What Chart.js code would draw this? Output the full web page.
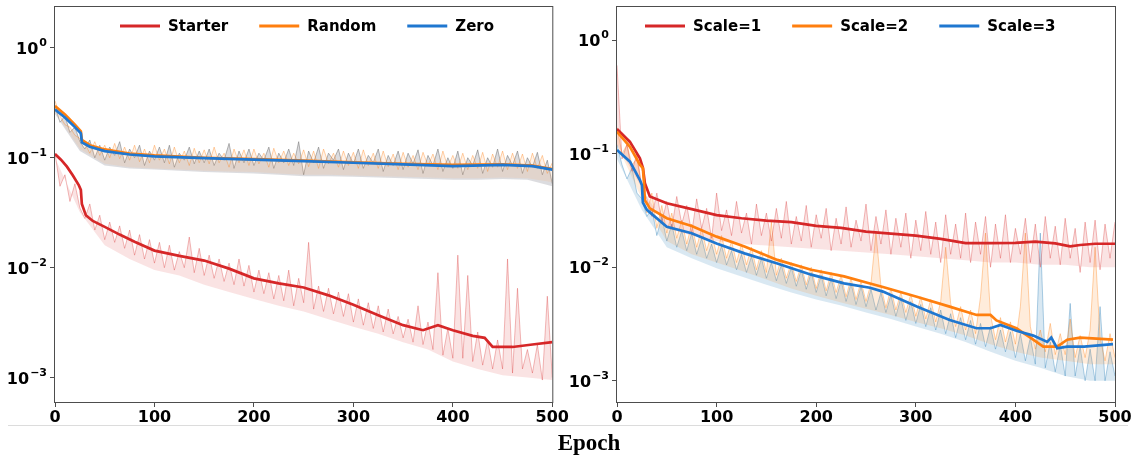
<!DOCTYPE html>
<html>
<head>
<meta charset="utf-8">
<script src="https://cdn.jsdelivr.net/npm/chart.js@4.4.0/dist/chart.umd.min.js"></script>
<style>
  body { margin: 0; background: #fff; }
  #wrap { position: relative; width: 1136px; height: 457px; background: #fff; overflow: hidden; }
  canvas { position: absolute; top: 0; }
  #sep { position: absolute; left: 8px; top: 425px; width: 1120px; height: 1px; background: #dcdcdc; }
  #xlabel { position: absolute; left: 0; width: 1178px; top: 430px; line-height: 26px; text-align: center;
            font: bold 23px "Liberation Serif", "Times New Roman", serif; color: #000; }
</style>
</head>
<body>
<div id="wrap">
  <canvas id="leftChart" width="570" height="430" style="left:0"></canvas>
  <canvas id="rightChart" width="571" height="430" style="left:565px"></canvas>
  <div id="sep"></div>
  <div id="xlabel">Epoch</div>
</div>
<script>
// tick labels
const xTicks = [0, 100, 200, 300, 400, 500];
const yTicks = [1e-3, 1e-2, 1e-1, 1];
const yTickExp = ["\u22123", "\u22122", "\u22121", "0"];

// raw (noisy) curves, sampled every 5 epochs
const rawEpochs = Array.from({ length: 101 }, (_, i) => i * 5);

const starterRaw = [0.11, 0.055, 0.07, 0.04, 0.058, 0.035, 0.028, 0.038, 0.022, 0.03,
  0.018, 0.026, 0.017, 0.024, 0.015, 0.022, 0.013, 0.02, 0.012, 0.018,
  0.011, 0.017, 0.01, 0.016, 0.0095, 0.014, 0.01, 0.019, 0.009, 0.015,
  0.0085, 0.013, 0.008, 0.012, 0.0075, 0.011, 0.007, 0.012, 0.0068, 0.0105,
  0.006, 0.0095, 0.0058, 0.009, 0.0052, 0.0085, 0.005, 0.0095, 0.0045, 0.008,
  0.0048, 0.017, 0.0042, 0.0068, 0.004, 0.0065, 0.0038, 0.006, 0.0036, 0.0058,
  0.0032, 0.0052, 0.003, 0.0048, 0.0028, 0.0045, 0.0026, 0.0042, 0.0025, 0.0036,
  0.0023, 0.0034, 0.0021, 0.0045, 0.002, 0.0032, 0.0018, 0.009, 0.0016, 0.0028,
  0.0015, 0.013, 0.0015, 0.0085, 0.0014, 0.0026, 0.0013, 0.0022, 0.0012, 0.0022,
  0.0012, 0.012, 0.0011, 0.0065, 0.0012, 0.0018, 0.0011, 0.002, 0.00095, 0.0055, 0.001];

const randomRaw = [0.33, 0.24, 0.2, 0.19, 0.16, 0.15, 0.135, 0.11, 0.14, 0.105,
  0.13, 0.1, 0.135, 0.098, 0.125, 0.095, 0.13, 0.092, 0.12, 0.09,
  0.13, 0.095, 0.12, 0.088, 0.125, 0.09, 0.115, 0.085, 0.122, 0.09,
  0.118, 0.088, 0.125, 0.09, 0.11, 0.082, 0.12, 0.09, 0.118, 0.085,
  0.12, 0.088, 0.11, 0.082, 0.122, 0.09, 0.115, 0.085, 0.11, 0.088,
  0.118, 0.083, 0.115, 0.08, 0.12, 0.088, 0.11, 0.082, 0.115, 0.085,
  0.112, 0.08, 0.118, 0.085, 0.11, 0.08, 0.115, 0.083, 0.108, 0.078,
  0.112, 0.082, 0.105, 0.078, 0.112, 0.085, 0.108, 0.078, 0.115, 0.082,
  0.105, 0.08, 0.11, 0.078, 0.105, 0.08, 0.112, 0.075, 0.108, 0.082,
  0.115, 0.078, 0.11, 0.08, 0.108, 0.075, 0.11, 0.08, 0.105, 0.072, 0.09];

const zeroRaw = [0.3, 0.21, 0.24, 0.17, 0.19, 0.14, 0.12, 0.145, 0.1, 0.13,
  0.095, 0.125, 0.105, 0.14, 0.09, 0.12, 0.1, 0.13, 0.085, 0.115,
  0.095, 0.125, 0.09, 0.13, 0.082, 0.11, 0.095, 0.125, 0.088, 0.115,
  0.09, 0.12, 0.085, 0.11, 0.095, 0.135, 0.08, 0.115, 0.09, 0.12,
  0.085, 0.11, 0.095, 0.125, 0.08, 0.11, 0.09, 0.12, 0.085, 0.14,
  0.07, 0.115, 0.09, 0.125, 0.08, 0.11, 0.095, 0.12, 0.078, 0.11,
  0.088, 0.12, 0.08, 0.105, 0.09, 0.12, 0.075, 0.105, 0.085, 0.115,
  0.078, 0.11, 0.088, 0.118, 0.072, 0.105, 0.085, 0.12, 0.075, 0.1,
  0.08, 0.115, 0.07, 0.1, 0.085, 0.118, 0.072, 0.1, 0.082, 0.12,
  0.075, 0.105, 0.085, 0.115, 0.072, 0.1, 0.082, 0.112, 0.07, 0.095, 0.058];

const scale1Raw = [0.6, 0.09, 0.12, 0.07, 0.1, 0.05, 0.04, 0.028, 0.045, 0.025,
  0.038, 0.022, 0.042, 0.024, 0.035, 0.02, 0.04, 0.022, 0.033, 0.018,
  0.045, 0.021, 0.032, 0.019, 0.038, 0.02, 0.03, 0.016, 0.036, 0.019,
  0.03, 0.017, 0.033, 0.018, 0.038, 0.016, 0.028, 0.017, 0.035, 0.015,
  0.029, 0.018, 0.033, 0.014, 0.027, 0.016, 0.034, 0.015, 0.026, 0.017,
  0.036, 0.014, 0.028, 0.016, 0.032, 0.013, 0.027, 0.015, 0.03, 0.012,
  0.026, 0.014, 0.031, 0.013, 0.025, 0.011, 0.029, 0.013, 0.024, 0.012,
  0.03, 0.011, 0.025, 0.013, 0.028, 0.01, 0.024, 0.012, 0.029, 0.011,
  0.022, 0.013, 0.027, 0.011, 0.024, 0.01, 0.028, 0.012, 0.023, 0.0105,
  0.027, 0.012, 0.022, 0.009, 0.025, 0.011, 0.026, 0.0095, 0.024, 0.012, 0.025];

const scale2Raw = [0.17, 0.1, 0.12, 0.08, 0.09, 0.05, 0.03, 0.045, 0.022, 0.035,
  0.02, 0.03, 0.018, 0.026, 0.016, 0.024, 0.015, 0.022, 0.014, 0.02,
  0.013, 0.019, 0.012, 0.017, 0.011, 0.016, 0.0105, 0.015, 0.0095, 0.014,
  0.009, 0.025, 0.0085, 0.012, 0.008, 0.011, 0.0075, 0.0105, 0.007, 0.01,
  0.0065, 0.0095, 0.0062, 0.009, 0.006, 0.0085, 0.0055, 0.008, 0.0052, 0.0075,
  0.005, 0.0072, 0.02, 0.0068, 0.0044, 0.0065, 0.0042, 0.006, 0.004, 0.0058,
  0.0037, 0.0055, 0.0035, 0.0052, 0.0033, 0.005, 0.015, 0.0048, 0.003, 0.0045,
  0.0028, 0.0042, 0.0026, 0.0055, 0.02, 0.0038, 0.0023, 0.0036, 0.0022, 0.0033,
  0.0021, 0.0045, 0.02, 0.003, 0.0019, 0.0028, 0.0018, 0.0032, 0.0017, 0.0026,
  0.0017, 0.0035, 0.0016, 0.0025, 0.0016, 0.0028, 0.015, 0.0024, 0.0015, 0.0026, 0.0016];

const scale3Raw = [0.12, 0.08, 0.06, 0.075, 0.045, 0.04, 0.028, 0.033, 0.019, 0.028,
  0.017, 0.024, 0.015, 0.021, 0.014, 0.02, 0.013, 0.018, 0.012, 0.016,
  0.011, 0.0155, 0.0105, 0.014, 0.0095, 0.013, 0.009, 0.0125, 0.0085, 0.012,
  0.008, 0.011, 0.0076, 0.0105, 0.0072, 0.01, 0.0068, 0.0095, 0.0064, 0.009,
  0.006, 0.0085, 0.0056, 0.008, 0.0053, 0.0076, 0.005, 0.0072, 0.0047, 0.0068,
  0.0045, 0.0064, 0.0042, 0.006, 0.004, 0.0057, 0.0037, 0.0054, 0.0034, 0.005,
  0.0032, 0.0047, 0.003, 0.0044, 0.0028, 0.0042, 0.0026, 0.0039, 0.0024, 0.0036,
  0.0023, 0.0034, 0.0021, 0.0032, 0.002, 0.003, 0.0019, 0.0028, 0.0018, 0.0027,
  0.0016, 0.0026, 0.0015, 0.0024, 0.0014, 0.02, 0.0013, 0.0022, 0.0012, 0.0021,
  0.0011, 0.0048, 0.0011, 0.002, 0.001, 0.0019, 0.001, 0.0045, 0.001, 0.0018, 0.0011];

// lower edge of each noisy band, every 25 epochs
const bandEpochs = Array.from({ length: 21 }, (_, i) => i * 25);
const starterLow = [0.1, 0.032, 0.016, 0.012, 0.0095, 0.0085, 0.007, 0.006, 0.0052, 0.0045, 0.004,
  0.0034, 0.0029, 0.0025, 0.0021, 0.0018, 0.0014, 0.0012, 0.00105, 0.001, 0.00095];
const randomLow = [0.26, 0.12, 0.088, 0.082, 0.08, 0.078, 0.076, 0.075, 0.074, 0.072, 0.07,
  0.07, 0.069, 0.068, 0.067, 0.066, 0.065, 0.065, 0.066, 0.065, 0.06];
const zeroLow = [0.25, 0.115, 0.085, 0.08, 0.078, 0.076, 0.074, 0.073, 0.072, 0.07, 0.068,
  0.068, 0.067, 0.066, 0.065, 0.064, 0.063, 0.063, 0.064, 0.063, 0.055];
const scale1Low = [0.12, 0.05, 0.022, 0.019, 0.017, 0.016, 0.0155, 0.015, 0.0145, 0.014, 0.0135,
  0.013, 0.0125, 0.012, 0.0115, 0.011, 0.011, 0.0105, 0.0105, 0.01, 0.01];
const scale2Low = [0.12, 0.04, 0.017, 0.013, 0.011, 0.0093, 0.0078, 0.0065, 0.0056, 0.0049, 0.0043,
  0.0038, 0.0033, 0.0029, 0.0025, 0.0021, 0.0018, 0.0016, 0.0015, 0.0014, 0.0014];
const scale3Low = [0.09, 0.032, 0.015, 0.012, 0.0098, 0.0083, 0.007, 0.006, 0.0052, 0.0046, 0.004,
  0.0035, 0.003, 0.0026, 0.0022, 0.0018, 0.0015, 0.0013, 0.0011, 0.001, 0.001];

// smoothed curves (left panel)
const starterEpochs = [0, 6, 12, 18, 24, 26, 27, 31, 38, 50, 65, 80, 100, 125, 150, 175, 200, 225, 250, 275,
  300, 325, 350, 370, 385, 400, 420, 432, 440, 460, 480, 500];
const starterSmooth = [0.108, 0.096, 0.083, 0.069, 0.056, 0.051, 0.038, 0.03, 0.0266, 0.0235, 0.02, 0.0172,
  0.0143, 0.0128, 0.0116, 0.0098, 0.008, 0.0072, 0.0066, 0.0056, 0.0046, 0.0037, 0.003, 0.0027,
  0.003, 0.0027, 0.0024, 0.0023, 0.0019, 0.0019, 0.002, 0.0021];

const initEpochs = [0, 10, 20, 26, 27, 35, 50, 75, 100, 150, 200, 250, 300, 350, 400, 450, 480, 500];
const randomSmooth = [0.295, 0.248, 0.2, 0.174, 0.145, 0.13, 0.119, 0.109, 0.105, 0.1, 0.097, 0.094,
  0.091, 0.088, 0.086, 0.087, 0.085, 0.079];
const zeroSmooth = [0.275, 0.232, 0.19, 0.167, 0.138, 0.126, 0.115, 0.107, 0.103, 0.099, 0.096, 0.093,
  0.09, 0.087, 0.084, 0.086, 0.084, 0.078];

// smoothed curves (right panel)
const scale1Epochs = [0, 13, 23, 26, 28, 33, 50, 75, 100, 125, 150, 175, 200, 225, 250, 275, 300, 325,
  350, 375, 400, 420, 440, 455, 465, 480, 500];
const scale1Smooth = [0.165, 0.127, 0.091, 0.075, 0.055, 0.042, 0.0366, 0.0325, 0.0288, 0.027, 0.0257,
  0.025, 0.0231, 0.0222, 0.0206, 0.0198, 0.019, 0.0178, 0.0163, 0.0163, 0.0164, 0.0168, 0.0162,
  0.0153, 0.0157, 0.0161, 0.0161];

const scale2Epochs = [0, 13, 23, 26, 27, 28, 33, 50, 75, 100, 128, 161, 195, 228, 254, 267, 301, 334,
  361, 375, 381, 401, 415, 428, 442, 452, 465, 498];
const scale2Smooth = [0.156, 0.115, 0.08, 0.0745, 0.057, 0.039, 0.033, 0.027, 0.0231, 0.0186, 0.0152,
  0.0116, 0.0095, 0.0083, 0.0072, 0.0067, 0.0055, 0.0045, 0.0038, 0.0038, 0.0034, 0.0029, 0.0024,
  0.002, 0.002, 0.0023, 0.0024, 0.0023];

const scale3Epochs = [0, 13, 23, 25, 26, 30, 50, 75, 100, 128, 161, 195, 228, 254, 267, 301, 334, 361,
  375, 385, 401, 418, 432, 436, 442, 452, 469, 498];
const scale3Smooth = [0.108, 0.085, 0.0586, 0.053, 0.037, 0.032, 0.0227, 0.0199, 0.0162, 0.01325,
  0.0108, 0.0086, 0.0072, 0.0066, 0.0061, 0.0045, 0.00343, 0.0029, 0.0029, 0.0031, 0.00276,
  0.0025, 0.0022, 0.0024, 0.00193, 0.002, 0.002, 0.0021];

const RED = "#d62728";
const ORANGE = "#ff7f0e";
const BLUE = "#1f77d0";
const FONT = '"DejaVu Sans", "Liberation Sans", sans-serif';

const pts = (xs, ys) => xs.map((x, i) => ({ x, y: ys[i] }));

// raw line, shaded down to its band edge (dataset index `target`)
const rawSet = (ys, line, shade, target) => ({
  data: pts(rawEpochs, ys),
  borderColor: line,
  backgroundColor: shade,
  fill: { target },
  borderWidth: 1,
  pointRadius: 0,
  order: 10,
});

const edgeSet = (ys) => ({
  data: pts(bandEpochs, ys),
  borderWidth: 0,
  borderColor: "rgba(0,0,0,0)",
  pointRadius: 0,
  fill: false,
  order: 20,
});

const smoothSet = (label, xs, ys, color, order) => ({
  label,
  inLegend: true,
  data: pts(xs, ys),
  borderColor: color,
  borderWidth: 2.7,
  pointRadius: 0,
  fill: false,
  order,
});

const legendPlugin = {
  id: "inLegend",
  afterDatasetsDraw(chart, args, opts) {
    const ctx = chart.ctx;
    ctx.save();
    ctx.font = "bold 15px " + FONT;
    ctx.textBaseline = "middle";
    let x = opts.x;
    chart.data.datasets.filter((d) => d.inLegend).forEach((d) => {
      ctx.strokeStyle = d.borderColor;
      ctx.lineWidth = 3;
      ctx.beginPath();
      ctx.moveTo(x, opts.y);
      ctx.lineTo(x + 40, opts.y);
      ctx.stroke();
      ctx.fillStyle = "#000";
      ctx.fillText(d.label, x + 48, opts.y + 1);
      x += 48 + ctx.measureText(d.label).width + 31;
    });
    ctx.restore();
  },
};

// frame around the plot and "10^n" style y labels
const framePlugin = {
  id: "frame",
  afterDraw(chart) {
    const a = chart.chartArea;
    const ctx = chart.ctx;
    const y = chart.scales.y;
    ctx.save();
    ctx.strokeStyle = "#4d4d4d";
    ctx.lineWidth = 1;
    ctx.strokeRect(a.left - 0.5, a.top + 0.5, a.right - a.left + 1, a.bottom - a.top);
    ctx.fillStyle = "#000";
    ctx.textBaseline = "alphabetic";
    yTicks.forEach((v, i) => {
      const py = y.getPixelForValue(v);
      ctx.font = "bold 11px " + FONT;
      const ew = ctx.measureText(yTickExp[i]).width;
      ctx.font = "bold 16px " + FONT;
      const bw = ctx.measureText("10").width;
      const right = a.left - 8;
      ctx.fillText("10", right - ew - bw - 1, py + 6);
      ctx.font = "bold 11px " + FONT;
      ctx.fillText(yTickExp[i], right - ew, py - 2);
    });
    ctx.restore();
  },
};

const createChart = (id, datasets, yMin, yMax, yWidth, padRight, legendX) => {
  const ctx = document.getElementById(id).getContext("2d");
  return new Chart(ctx, {
    type: "line",
    data: { datasets },
    options: {
      responsive: false,
      animation: false,
      devicePixelRatio: 1,
      layout: { padding: { top: 6, right: padRight, left: 0, bottom: 0 } },
      plugins: {
        legend: { display: false },
        tooltip: { enabled: false },
        filler: { propagate: false },
        inLegend: { x: legendX, y: 26 },
      },
      scales: {
        x: {
          type: "linear",
          min: 0,
          max: 500,
          afterBuildTicks: (s) => { s.ticks = xTicks.map((v) => ({ value: v })); },
          afterFit: (s) => { s.height = 28; },
          ticks: { color: "#000", font: { family: FONT, size: 16, weight: "bold" }, padding: 1, maxRotation: 0 },
          grid: { drawOnChartArea: false, tickLength: 5, color: "#4d4d4d" },
          border: { display: false },
        },
        y: {
          type: "logarithmic",
          min: yMin,
          max: yMax,
          afterBuildTicks: (s) => { s.ticks = yTicks.map((v) => ({ value: v })); },
          afterFit: (s) => { s.width = yWidth; },
          ticks: { display: false },
          grid: { drawOnChartArea: false, tickLength: 5, color: "#4d4d4d" },
          border: { display: false },
        },
      },
    },
    plugins: [legendPlugin, framePlugin],
  });
};

createChart(
  "leftChart",
  [
    smoothSet("Starter", starterEpochs, starterSmooth, RED, 3),
    smoothSet("Random", initEpochs, randomSmooth, ORANGE, 2),
    smoothSet("Zero", initEpochs, zeroSmooth, BLUE, 1),
    rawSet(starterRaw, "rgba(214, 39, 40, 0.32)", "rgba(214, 39, 40, 0.13)", 6),
    rawSet(randomRaw, "rgba(255, 127, 14, 0.35)", "rgba(255, 160, 90, 0.14)", 7),
    rawSet(zeroRaw, "rgba(110, 110, 110, 0.5)", "rgba(140, 140, 150, 0.3)", 8),
    edgeSet(starterLow),
    edgeSet(randomLow),
    edgeSet(zeroLow),
  ],
  6.4e-4, 2.4, 55, 17, 120
);

createChart(
  "rightChart",
  [
    smoothSet("Scale=1", scale1Epochs, scale1Smooth, RED, 3),
    smoothSet("Scale=2", scale2Epochs, scale2Smooth, ORANGE, 2),
    smoothSet("Scale=3", scale3Epochs, scale3Smooth, BLUE, 1),
    rawSet(scale1Raw, "rgba(214, 39, 40, 0.32)", "rgba(214, 39, 40, 0.13)", 6),
    rawSet(scale2Raw, "rgba(255, 127, 14, 0.35)", "rgba(255, 127, 14, 0.15)", 7),
    rawSet(scale3Raw, "rgba(31, 119, 180, 0.35)", "rgba(31, 119, 180, 0.17)", 8),
    edgeSet(scale1Low),
    edgeSet(scale2Low),
    edgeSet(scale3Low),
  ],
  6.5e-4, 2.0, 52, 21, 80
);
</script>
</body>
</html>
